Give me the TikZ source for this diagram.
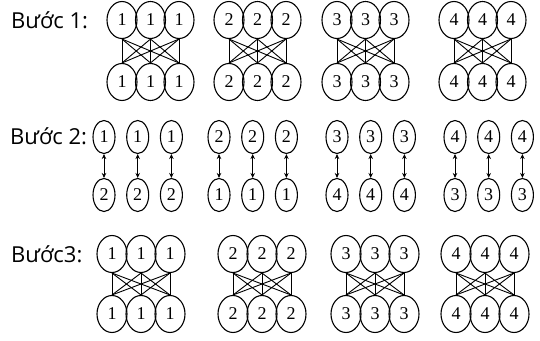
\documentclass[tikz,border=0pt]{standalone}
\usepackage{fontspec}
\setsansfont{Open Sans}
\newfontfamily\digitfont{Liberation Serif}
\usetikzlibrary{shapes.geometric,arrows.meta}

\tikzset{
  cell/.style={draw,ellipse,line width=1.1pt,inner sep=0pt,minimum width=30pt,minimum height=37pt,font=\digitfont\fontsize{18}{18}\selectfont},
  smallcell/.style={cell,minimum width=22pt,minimum height=33pt},
  steplabel/.style={anchor=west,inner sep=0pt,font=\sffamily\fontsize{22}{24}\selectfont},
  link/.style={line width=0.9pt},
  swap/.style={line width=0.9pt,{Stealth[length=5pt,width=4.5pt]}-{Stealth[length=5pt,width=4.5pt]}}
}

\begin{document}
\begin{tikzpicture}[x=1pt,y=-1pt]
  \useasboundingbox (0,0) rectangle (540,340);
  % Buoc 1: noi het trong tung nhom
  \node[steplabel] (s1) at (11,20) {Bước 1:};
  \foreach \g/\x in {1/122,2/229,3/337,4/454}{
    \foreach \i in {1,2,3}{
      \node[cell] (a\g t\i) at ({\x+28.5*(\i-1)},20) {\g};
      \node[cell] (a\g b\i) at ({\x+28.5*(\i-1)},82) {\g};
    }
    \foreach \i in {1,2,3}
      \foreach \j in {1,2,3}
        \draw[link] (a\g t\i.south) -- (a\g b\j.north);
  }
  % Buoc 2: doi cho tung cap
  \node[steplabel] (s2) at (10,136) {Bước 2:};
  \foreach \g/\x/\u/\v in {1/104/1/2,2/219/2/1,3/337/3/4,4/455/4/3}{
    \foreach \i in {1,2,3}{
      \node[smallcell] (c\g t\i) at ({\x+33.7*(\i-1)},137) {\u};
      \node[smallcell] (c\g b\i) at ({\x+33.7*(\i-1)},195) {\v};
      \draw[swap] (c\g t\i) -- (c\g b\i);
    }
  }
  % Buoc 3
  \node[steplabel] (s3) at (11,254) {Bước3:};
  \foreach \g/\x in {1/112,2/233,3/346,4/456}{
    \foreach \i in {1,2,3}{
      \node[cell] (e\g t\i) at ({\x+29*(\i-1)},254) {\g};
      \node[cell] (e\g b\i) at ({\x+29*(\i-1)},314) {\g};
    }
    \foreach \i in {1,2,3}
      \foreach \j in {1,2,3}
        \draw[link] (e\g t\i.south) -- (e\g b\j.north);
  }
\end{tikzpicture}
\end{document}
